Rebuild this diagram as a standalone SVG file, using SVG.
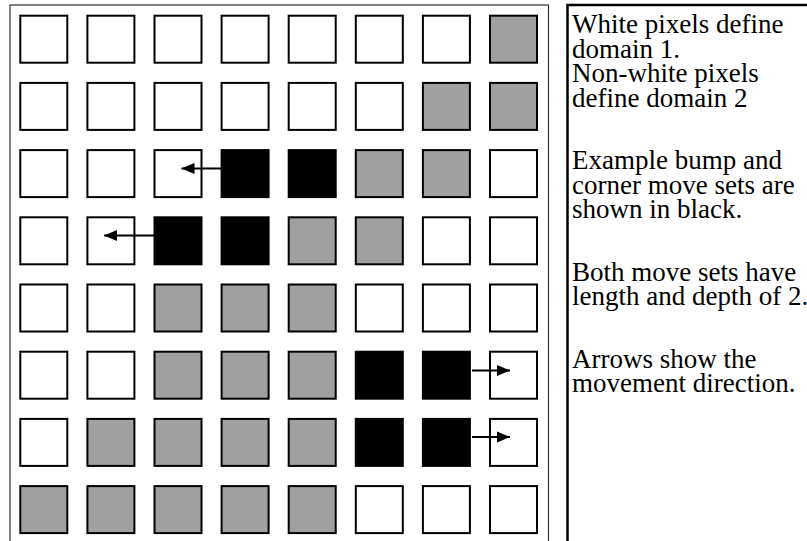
<svg xmlns="http://www.w3.org/2000/svg" width="807" height="541" viewBox="0 0 807 541">
<defs>
<style>
.w{fill:#fff;stroke:#000;stroke-width:2}
.g{fill:#a0a0a0;stroke:#000;stroke-width:2}
.b{fill:#000;stroke:#000;stroke-width:2}
.c{stroke:#000;stroke-width:1.8;fill:none;marker-end:url(#ah)}
.t{font-family:"Liberation Serif","Times New Roman",serif;font-size:27px;fill:#000}
</style>
<marker id="ah" markerUnits="userSpaceOnUse" markerWidth="14" markerHeight="14" viewBox="0 0 14 14" refX="13" refY="7" orient="auto">
<path d="M0,1.5 L13,7 L0,12.5 Z" fill="#000"/>
</marker>
</defs>
<rect width="807" height="541" fill="#fff"/>
<g id="frame">
<rect x="10" y="5" width="538.5" height="545" fill="none" stroke="#333" stroke-width="1.2"/>
</g>
<g id="grid">
<g id="r0">
<rect class="w" x="20.3" y="15.7" width="47" height="47"/>
<rect class="w" x="87.4" y="15.7" width="47" height="47"/>
<rect class="w" x="154.5" y="15.7" width="47" height="47"/>
<rect class="w" x="221.6" y="15.7" width="47" height="47"/>
<rect class="w" x="288.7" y="15.7" width="47" height="47"/>
<rect class="w" x="355.8" y="15.7" width="47" height="47"/>
<rect class="w" x="422.9" y="15.7" width="47" height="47"/>
<rect class="g" x="490" y="15.7" width="47" height="47"/>
</g>
<g id="r1">
<rect class="w" x="20.3" y="82.9" width="47" height="47"/>
<rect class="w" x="87.4" y="82.9" width="47" height="47"/>
<rect class="w" x="154.5" y="82.9" width="47" height="47"/>
<rect class="w" x="221.6" y="82.9" width="47" height="47"/>
<rect class="w" x="288.7" y="82.9" width="47" height="47"/>
<rect class="w" x="355.8" y="82.9" width="47" height="47"/>
<rect class="g" x="422.9" y="82.9" width="47" height="47"/>
<rect class="g" x="490" y="82.9" width="47" height="47"/>
</g>
<g id="r2">
<rect class="w" x="20.3" y="150.1" width="47" height="47"/>
<rect class="w" x="87.4" y="150.1" width="47" height="47"/>
<rect class="w" x="154.5" y="150.1" width="47" height="47"/>
<rect class="b" x="221.6" y="150.1" width="47" height="47"/>
<rect class="b" x="288.7" y="150.1" width="47" height="47"/>
<rect class="g" x="355.8" y="150.1" width="47" height="47"/>
<rect class="g" x="422.9" y="150.1" width="47" height="47"/>
<rect class="w" x="490" y="150.1" width="47" height="47"/>
</g>
<g id="r3">
<rect class="w" x="20.3" y="217.3" width="47" height="47"/>
<rect class="w" x="87.4" y="217.3" width="47" height="47"/>
<rect class="b" x="154.5" y="217.3" width="47" height="47"/>
<rect class="b" x="221.6" y="217.3" width="47" height="47"/>
<rect class="g" x="288.7" y="217.3" width="47" height="47"/>
<rect class="g" x="355.8" y="217.3" width="47" height="47"/>
<rect class="w" x="422.9" y="217.3" width="47" height="47"/>
<rect class="w" x="490" y="217.3" width="47" height="47"/>
</g>
<g id="r4">
<rect class="w" x="20.3" y="284.5" width="47" height="47"/>
<rect class="w" x="87.4" y="284.5" width="47" height="47"/>
<rect class="g" x="154.5" y="284.5" width="47" height="47"/>
<rect class="g" x="221.6" y="284.5" width="47" height="47"/>
<rect class="g" x="288.7" y="284.5" width="47" height="47"/>
<rect class="w" x="355.8" y="284.5" width="47" height="47"/>
<rect class="w" x="422.9" y="284.5" width="47" height="47"/>
<rect class="w" x="490" y="284.5" width="47" height="47"/>
</g>
<g id="r5">
<rect class="w" x="20.3" y="351.7" width="47" height="47"/>
<rect class="w" x="87.4" y="351.7" width="47" height="47"/>
<rect class="g" x="154.5" y="351.7" width="47" height="47"/>
<rect class="g" x="221.6" y="351.7" width="47" height="47"/>
<rect class="g" x="288.7" y="351.7" width="47" height="47"/>
<rect class="b" x="355.8" y="351.7" width="47" height="47"/>
<rect class="b" x="422.9" y="351.7" width="47" height="47"/>
<rect class="w" x="490" y="351.7" width="47" height="47"/>
</g>
<g id="r6">
<rect class="w" x="20.3" y="418.9" width="47" height="47"/>
<rect class="g" x="87.4" y="418.9" width="47" height="47"/>
<rect class="g" x="154.5" y="418.9" width="47" height="47"/>
<rect class="g" x="221.6" y="418.9" width="47" height="47"/>
<rect class="g" x="288.7" y="418.9" width="47" height="47"/>
<rect class="b" x="355.8" y="418.9" width="47" height="47"/>
<rect class="b" x="422.9" y="418.9" width="47" height="47"/>
<rect class="w" x="490" y="418.9" width="47" height="47"/>
</g>
<g id="r7">
<rect class="g" x="20.3" y="486.1" width="47" height="47"/>
<rect class="g" x="87.4" y="486.1" width="47" height="47"/>
<rect class="g" x="154.5" y="486.1" width="47" height="47"/>
<rect class="g" x="221.6" y="486.1" width="47" height="47"/>
<rect class="g" x="288.7" y="486.1" width="47" height="47"/>
<rect class="w" x="355.8" y="486.1" width="47" height="47"/>
<rect class="w" x="422.9" y="486.1" width="47" height="47"/>
<rect class="w" x="490" y="486.1" width="47" height="47"/>
</g>
</g>
<g id="connectors">
<line class="c" x1="221" y1="168.5" x2="181.5" y2="168.5"/>
<line class="c" x1="154" y1="235.5" x2="104" y2="235.5"/>
<line class="c" x1="472" y1="370.5" x2="510" y2="370.5"/>
<line class="c" x1="472" y1="437" x2="510" y2="437"/>
</g>
<g id="legend">
<rect x="567.5" y="5" width="250" height="550" fill="none" stroke="#000" stroke-width="2.5"/>
<text class="t" x="572" y="33">White pixels define</text>
<text class="t" x="572" y="57.5">domain 1.</text>
<text class="t" x="572" y="82">Non-white pixels</text>
<text class="t" x="572" y="106.5">define domain 2</text>
<text class="t" x="572" y="169">Example bump and</text>
<text class="t" x="572" y="193.5">corner move sets are</text>
<text class="t" x="572" y="218">shown in black.</text>
<text class="t" x="572" y="280.5">Both move sets have</text>
<text class="t" x="572" y="305">length and depth of 2.</text>
<text class="t" x="572" y="367.5">Arrows show the</text>
<text class="t" x="572" y="392">movement direction.</text>
</g>
</svg>
